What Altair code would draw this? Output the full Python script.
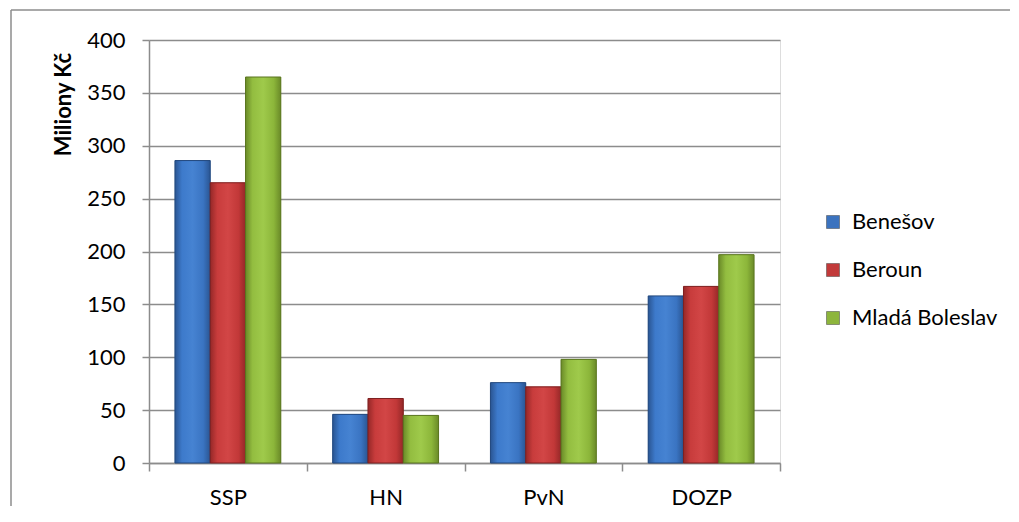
import altair as alt
import pandas as pd

categories = ["SSP", "HN", "PvN", "DOZP"]
series = ["Benešov", "Beroun", "Mladá Boleslav"]
benesov = [286, 46, 76, 158]
beroun = [265, 61, 72, 167]
mlada = [365, 45, 98, 197]

colors = ["#3b73bf", "#c23a3a", "#8db53c"]
grads = {
    "Benešov": ["#2a5592", "#3d7acb", "#4683d2", "#3a74c2", "#2a5592"],
    "Beroun": ["#952828", "#c83c3c", "#d24646", "#c23838", "#952828"],
    "Mladá Boleslav": ["#6a8a28", "#93bd40", "#9fca4b", "#8cb63a", "#6a8a28"],
}
strokes = {"Benešov": "#23497e", "Beroun": "#7e2020", "Mladá Boleslav": "#5a7520"}

rows = []
for s, vals in zip(series, [benesov, beroun, mlada]):
    for c, v in zip(categories, vals):
        rows.append({"kat": c, "okres": s, "hodnota": v})
df = pd.DataFrame(rows)

FONT = "Lato"

x_enc = alt.X("kat:N", sort=categories, title=None,
              scale=alt.Scale(paddingInner=0, paddingOuter=0),
              axis=alt.Axis(labelAngle=0, tickBand="extent", grid=False,
                            domainColor="#8c8c8c", domainWidth=1.5,
                            tickColor="#8c8c8c", tickWidth=1.5, tickSize=8,
                            labelFont=FONT, labelFontSize=22, labelColor="#000",
                            labelPadding=16))
xo_enc = alt.XOffset("okres:N", sort=series,
                     scale=alt.Scale(domain=series, paddingInner=0, paddingOuter=0.735))
y_enc = alt.Y("hodnota:Q", title="Miliony Kč",
              scale=alt.Scale(domain=[0, 400], nice=False),
              axis=alt.Axis(values=list(range(0, 401, 50)), grid=True,
                            gridColor="#8c8c8c", gridWidth=1.5,
                            domainColor="#8c8c8c", domainWidth=1.5,
                            tickColor="#8c8c8c", tickWidth=1.5, tickSize=7,
                            labelFont=FONT, labelFontSize=22, labelColor="#000",
                            labelPadding=17,
                            titleFont=FONT, titleFontSize=22, titleFontWeight="bold",
                            titleColor="#000", titleX=-86, titleY=64,
                            titleAlign="center", titleBaseline="middle", titleAngle=270))

base = alt.Chart(df).mark_bar().encode(
    x=x_enc, xOffset=xo_enc, y=y_enc,
    color=alt.Color("okres:N", sort=series,
                    scale=alt.Scale(domain=series, range=colors),
                    legend=alt.Legend(title=None, orient="none", legendX=673, legendY=171,
                                      symbolType="square", symbolSize=169,
                                      symbolStrokeColor="#444", symbolStrokeWidth=0.5,
                                      labelFont=FONT, labelFontSize=22, labelColor="#000",
                                      labelOffset=8, rowPadding=26)),
)

layers = [base]
for s in series:
    g = grads[s]
    stops = [alt.GradientStop(offset=o, color=c) for o, c in zip([0, 0.2, 0.5, 0.8, 1], g)]
    layers.append(
        alt.Chart(df).transform_filter(alt.datum.okres == s).mark_bar(
            fill=alt.Gradient(gradient="linear", stops=stops, x1=0, x2=1, y1=0, y2=0),
            stroke=strokes[s], strokeWidth=1,
        ).encode(x=x_enc, xOffset=xo_enc, y=y_enc)
    )

frame_df = pd.DataFrame({"a": [0]})
frame_left = alt.Chart(frame_df).mark_rule(color="#8c8c8c", strokeWidth=1.5).encode(
    x=alt.value(-138), y=alt.value(-30), y2=alt.value(466))
frame_top = alt.Chart(frame_df).mark_rule(color="#8c8c8c", strokeWidth=1.5).encode(
    x=alt.value(-138), x2=alt.value(861), y=alt.value(-30), y2=alt.value(-30))

chart = alt.layer(frame_left, frame_top, *layers).properties(
    width=631, height=423,
    autosize=alt.AutoSizeParams(type="none"),
    padding={"left": 141, "top": 32, "right": 231, "bottom": 51},
).configure_view(stroke=None).configure(background="white")

chart.save("out.html", embed_options={"renderer": "svg", "actions": False})
